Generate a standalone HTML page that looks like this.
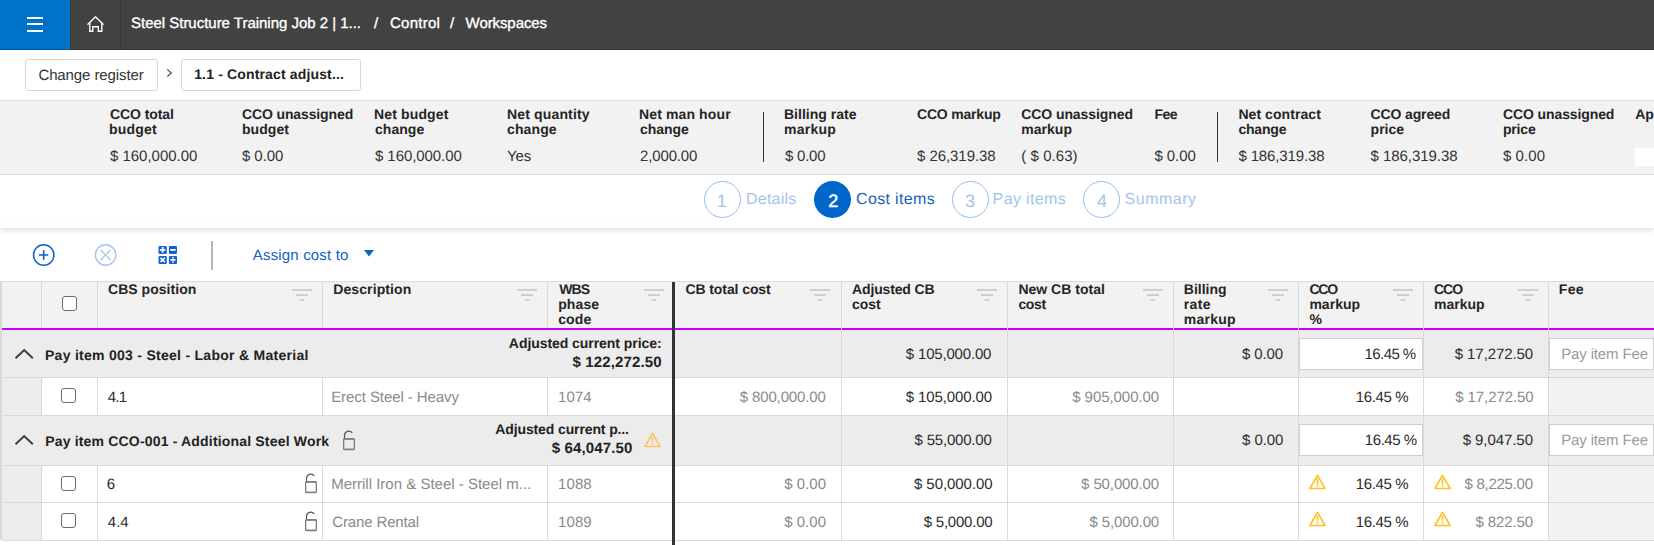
<!DOCTYPE html>
<html>
<head>
<meta charset="utf-8">
<title>Cost items</title>
<style>
*{box-sizing:border-box;margin:0;padding:0}
html,body{width:1654px;height:545px;overflow:hidden;background:#fff}
body{font-family:"Liberation Sans",Arial,sans-serif;color:#333;position:relative;text-rendering:geometricPrecision}
.a{position:absolute}
.t{position:absolute;white-space:nowrap}
.bx{position:absolute}
</style>
</head>
<body>
<!-- TOP BAR -->
<div class="bx" style="left:0;top:0;width:1654px;height:50px;background:#424242"></div>
<div class="bx" style="left:0;top:0;width:70px;height:50px;background:#0071c9"></div>
<div class="bx" style="left:27px;top:16.5px;width:16px;height:2px;background:#fff"></div>
<div class="bx" style="left:27px;top:23px;width:16px;height:2px;background:#fff"></div>
<div class="bx" style="left:27px;top:30px;width:16px;height:2px;background:#fff"></div>
<svg class="a" style="left:84px;top:12px" width="24" height="24" viewBox="0 0 24 24">
 <path d="M3.9 12.3 L11.5 4.8 L19.1 12.3" fill="none" stroke="#fff" stroke-width="1.4" stroke-linecap="round" stroke-linejoin="round"/>
 <path d="M5.8 10.6 V19.2 H8.8 V14.7 H14.3 V19.2 H17.8 V10.6" fill="none" stroke="#fff" stroke-width="1.35"/>
</svg>
<div class="bx" style="left:120px;top:0;width:1px;height:50px;background:#363636"></div>
<div class="bx" style="left:70px;top:0;width:1px;height:50px;background:#383838"></div>
<div class="bx" style="left:0;top:49px;width:1654px;height:1px;background:rgba(0,0,0,0.18)"></div>

<!-- BREADCRUMB -->
<div class="bx" style="left:25px;top:59px;width:133px;height:32px;border:1px solid #d6d6d6;border-radius:3px"></div>
<svg class="a" style="left:165px;top:68px" width="8" height="11" viewBox="0 0 8 11"><path d="M2.2 1.3 L6.4 5 L2.2 8.7" fill="none" stroke="#444" stroke-width="1.1"/></svg>
<div class="bx" style="left:181px;top:59px;width:180px;height:32px;border:1px solid #d6d6d6;border-radius:3px"></div>

<!-- SUMMARY -->
<div class="bx" style="left:0;top:100px;width:1654px;height:75px;background:#f2f2f2;border-top:1px solid #dcdcdc;border-bottom:1px solid #dcdcdc"></div>
<div class="bx" style="left:763px;top:112px;width:1px;height:50px;background:#333"></div>
<div class="bx" style="left:1217px;top:112px;width:1px;height:50px;background:#333"></div>
<div class="bx" style="left:1635px;top:148px;width:19px;height:18px;background:#fff"></div>

<!-- STEPPER -->
<div class="bx" style="left:0;top:175px;width:1654px;height:53px;background:#fff;box-shadow:0 2px 6px rgba(0,0,0,0.14);clip-path:inset(0 0 -12px 0)"></div>
<div class="bx" style="left:704px;top:181px;width:37px;height:37px;border-radius:50%;border:1px solid #96bdea"></div>
<div class="bx" style="left:814px;top:181px;width:37px;height:37px;border-radius:50%;background:#0066cc"></div>
<div class="bx" style="left:952px;top:181px;width:37px;height:37px;border-radius:50%;border:1px solid #96bdea"></div>
<div class="bx" style="left:1083px;top:181px;width:37px;height:37px;border-radius:50%;border:1px solid #96bdea"></div>

<div class="bx" style="left:2px;top:217px;width:702px;height:1px;background:#fbfbfb"></div>
<!-- TOOLBAR -->
<svg class="a" style="left:32px;top:244px" width="23" height="23" viewBox="0 0 23 23">
 <circle cx="11.7" cy="11" r="10.2" fill="none" stroke="#1262cc" stroke-width="1.5"/>
 <path d="M11.7 6.2 V15.8 M7 11 H16.3" stroke="#1262cc" stroke-width="1.7"/>
</svg>
<svg class="a" style="left:94px;top:244px" width="23" height="23" viewBox="0 0 23 23">
 <circle cx="11.6" cy="11" r="10.2" fill="none" stroke="#a3c6ef" stroke-width="1.4"/>
 <path d="M6.6 6 L16.6 16 M16.6 6 L6.6 16" stroke="#a3c6ef" stroke-width="1.3"/>
</svg>
<svg class="a" style="left:158px;top:245px" width="20" height="20" viewBox="0 0 20 20">
 <rect x="0.5" y="0.9" width="8.3" height="8" rx="1.2" fill="#1262cc"/>
 <rect x="10.9" y="0.9" width="8.1" height="8" rx="1.2" fill="#1262cc"/>
 <rect x="0.5" y="10.9" width="8.3" height="8" rx="1.2" fill="#1262cc"/>
 <rect x="10.9" y="10.9" width="8.1" height="8" rx="1.2" fill="#1262cc"/>
 <path d="M4.65 2.1 V7.7 M1.9 4.9 H7.4 M12.3 4.9 H17.6 M2.5 12.8 L6.8 17 M6.8 12.8 L2.5 17 M12.4 14.9 H17.5" stroke="#fff" stroke-width="1.7"/>
 <circle cx="14.95" cy="12.7" r="0.9" fill="#fff"/><circle cx="14.95" cy="17.1" r="0.9" fill="#fff"/>
</svg>
<div class="bx" style="left:211px;top:241px;width:2px;height:29px;background:#b4b4b4"></div>
<svg class="a" style="left:364px;top:250px" width="10" height="7" viewBox="0 0 10 7"><path d="M0 0 H10 L5 6.5 Z" fill="#1560c4"/></svg>

<!-- GRID -->
<div class="bx" style="left:0;top:281px;width:1654px;height:1px;background:#dcdcdc"></div>
<div class="bx" style="left:0;top:282px;width:2px;height:258px;background:#d9d9d9"></div>
<div class="bx" style="left:2px;top:282px;width:1652px;height:46px;background:#f2f2f2"></div>
<div class="bx" style="left:2px;top:328px;width:1652px;height:2px;background:#c400ff"></div>
<!-- group rows -->
<div class="bx" style="left:2px;top:330px;width:1652px;height:47px;background:#ececec"></div>
<div class="bx" style="left:2px;top:377px;width:1652px;height:1px;background:#d9d9d9"></div>
<div class="bx" style="left:2px;top:378px;width:39px;height:87px;background:#ececec"></div>
<div class="bx" style="left:41px;top:378px;width:1613px;height:37px;background:#fff"></div>
<div class="bx" style="left:2px;top:415px;width:1652px;height:1px;background:#d9d9d9"></div>
<div class="bx" style="left:2px;top:416px;width:1652px;height:49px;background:#ececec"></div>
<div class="bx" style="left:2px;top:465px;width:1652px;height:1px;background:#d9d9d9"></div>
<div class="bx" style="left:2px;top:466px;width:39px;height:74px;background:#ececec"></div>
<div class="bx" style="left:41px;top:466px;width:1613px;height:36px;background:#fff"></div>
<div class="bx" style="left:2px;top:502px;width:1652px;height:1px;background:#d9d9d9"></div>
<div class="bx" style="left:41px;top:503px;width:1613px;height:37px;background:#fff"></div>
<div class="bx" style="left:2px;top:540px;width:1652px;height:1px;background:#d9d9d9"></div>
<!-- fee col readonly bg on data rows -->
<div class="bx" style="left:1549px;top:378px;width:105px;height:37px;background:#f2f2f2"></div>
<div class="bx" style="left:1549px;top:466px;width:105px;height:36px;background:#f2f2f2"></div>
<div class="bx" style="left:1549px;top:503px;width:105px;height:37px;background:#f2f2f2"></div>
<!-- vertical lines: header -->
<div class="bx" style="left:41px;top:282px;width:1px;height:46px;background:#d9d9d9"></div>
<div class="bx" style="left:97px;top:282px;width:1px;height:46px;background:#d9d9d9"></div>
<div class="bx" style="left:322px;top:282px;width:1px;height:46px;background:#d9d9d9"></div>
<div class="bx" style="left:547px;top:282px;width:1px;height:46px;background:#d9d9d9"></div>
<!-- vertical lines: data rows (left part) -->
<div class="bx" style="left:41px;top:378px;width:1px;height:37px;background:#d9d9d9"></div>
<div class="bx" style="left:97px;top:378px;width:1px;height:37px;background:#d9d9d9"></div>
<div class="bx" style="left:322px;top:378px;width:1px;height:37px;background:#d9d9d9"></div>
<div class="bx" style="left:547px;top:378px;width:1px;height:37px;background:#d9d9d9"></div>
<div class="bx" style="left:41px;top:466px;width:1px;height:74px;background:#d9d9d9"></div>
<div class="bx" style="left:97px;top:466px;width:1px;height:74px;background:#d9d9d9"></div>
<div class="bx" style="left:322px;top:466px;width:1px;height:74px;background:#d9d9d9"></div>
<div class="bx" style="left:547px;top:466px;width:1px;height:74px;background:#d9d9d9"></div>
<!-- vertical lines: right part full height -->
<div class="bx" style="left:841px;top:282px;width:1px;height:258px;background:#d9d9d9"></div>
<div class="bx" style="left:1007px;top:282px;width:1px;height:258px;background:#d9d9d9"></div>
<div class="bx" style="left:1173px;top:282px;width:1px;height:258px;background:#d9d9d9"></div>
<div class="bx" style="left:1298px;top:282px;width:1px;height:258px;background:#d9d9d9"></div>
<div class="bx" style="left:1423px;top:282px;width:1px;height:258px;background:#d9d9d9"></div>
<div class="bx" style="left:1548px;top:282px;width:1px;height:258px;background:#d9d9d9"></div>
<!-- thick frozen divider -->
<div class="bx" style="left:672px;top:282px;width:3px;height:263px;background:#333"></div>

<svg class="a" style="left:292px;top:289px" width="20" height="12" viewBox="0 0 20 12"><rect x="0" y="0" width="20" height="2" fill="#cfcfcf"/><rect x="4" y="5" width="12" height="2" fill="#cfcfcf"/><rect x="7.6" y="10" width="4.8" height="2" fill="#cfcfcf"/></svg>
<svg class="a" style="left:517px;top:289px" width="20" height="12" viewBox="0 0 20 12"><rect x="0" y="0" width="20" height="2" fill="#cfcfcf"/><rect x="4" y="5" width="12" height="2" fill="#cfcfcf"/><rect x="7.6" y="10" width="4.8" height="2" fill="#cfcfcf"/></svg>
<svg class="a" style="left:644px;top:289px" width="20" height="12" viewBox="0 0 20 12"><rect x="0" y="0" width="20" height="2" fill="#cfcfcf"/><rect x="4" y="5" width="12" height="2" fill="#cfcfcf"/><rect x="7.6" y="10" width="4.8" height="2" fill="#cfcfcf"/></svg>
<svg class="a" style="left:810px;top:289px" width="20" height="12" viewBox="0 0 20 12"><rect x="0" y="0" width="20" height="2" fill="#cfcfcf"/><rect x="4" y="5" width="12" height="2" fill="#cfcfcf"/><rect x="7.6" y="10" width="4.8" height="2" fill="#cfcfcf"/></svg>
<svg class="a" style="left:977px;top:289px" width="20" height="12" viewBox="0 0 20 12"><rect x="0" y="0" width="20" height="2" fill="#cfcfcf"/><rect x="4" y="5" width="12" height="2" fill="#cfcfcf"/><rect x="7.6" y="10" width="4.8" height="2" fill="#cfcfcf"/></svg>
<svg class="a" style="left:1143px;top:289px" width="20" height="12" viewBox="0 0 20 12"><rect x="0" y="0" width="20" height="2" fill="#cfcfcf"/><rect x="4" y="5" width="12" height="2" fill="#cfcfcf"/><rect x="7.6" y="10" width="4.8" height="2" fill="#cfcfcf"/></svg>
<svg class="a" style="left:1268px;top:289px" width="20" height="12" viewBox="0 0 20 12"><rect x="0" y="0" width="20" height="2" fill="#cfcfcf"/><rect x="4" y="5" width="12" height="2" fill="#cfcfcf"/><rect x="7.6" y="10" width="4.8" height="2" fill="#cfcfcf"/></svg>
<svg class="a" style="left:1393px;top:289px" width="20" height="12" viewBox="0 0 20 12"><rect x="0" y="0" width="20" height="2" fill="#cfcfcf"/><rect x="4" y="5" width="12" height="2" fill="#cfcfcf"/><rect x="7.6" y="10" width="4.8" height="2" fill="#cfcfcf"/></svg>
<svg class="a" style="left:1518px;top:289px" width="20" height="12" viewBox="0 0 20 12"><rect x="0" y="0" width="20" height="2" fill="#cfcfcf"/><rect x="4" y="5" width="12" height="2" fill="#cfcfcf"/><rect x="7.6" y="10" width="4.8" height="2" fill="#cfcfcf"/></svg>
<!-- checkboxes -->
<div class="bx" style="left:61.5px;top:295.5px;width:15px;height:15px;border:1.5px solid #6b6b6b;border-radius:3px;background:#fff"></div>
<div class="bx" style="left:61px;top:388px;width:15px;height:15px;border:1.5px solid #6b6b6b;border-radius:3px;background:#fff"></div>
<div class="bx" style="left:61px;top:476px;width:15px;height:15px;border:1.5px solid #6b6b6b;border-radius:3px;background:#fff"></div>
<div class="bx" style="left:61px;top:513px;width:15px;height:15px;border:1.5px solid #6b6b6b;border-radius:3px;background:#fff"></div>

<!-- chevrons -->
<svg class="a" style="left:14px;top:347px" width="20" height="14" viewBox="0 0 20 14"><path d="M1.5 11.3 L10.2 3 L18.8 11.3" fill="none" stroke="#3c3c3c" stroke-width="1.9"/></svg>
<svg class="a" style="left:14px;top:433px" width="20" height="14" viewBox="0 0 20 14"><path d="M1.5 11.3 L10.2 3 L18.8 11.3" fill="none" stroke="#3c3c3c" stroke-width="1.9"/></svg>

<!-- inputs -->
<div class="bx" style="left:1299px;top:338px;width:124px;height:32px;background:#fff;border:1px solid #cfcfcf"></div>
<div class="bx" style="left:1549px;top:338px;width:105px;height:32px;background:#fff;border:1px solid #cfcfcf"></div>
<div class="bx" style="left:1299px;top:424px;width:124px;height:32px;background:#fff;border:1px solid #cfcfcf"></div>
<div class="bx" style="left:1549px;top:424px;width:105px;height:32px;background:#fff;border:1px solid #cfcfcf"></div>

<svg class="a" style="left:341.5px;top:430.2px" width="14" height="21" viewBox="0 0 14 21"><path d="M2.5 8.6 V5.6 A4.3 4.3 0 0 1 10.3 3" fill="none" stroke="#555" stroke-width="1.2"/><rect x="1.65" y="8.85" width="10.7" height="10.6" rx="0.8" fill="none" stroke="#7c7c7c" stroke-width="1.3"/><path d="M1.8 8.85 H12.2 M1.8 19.45 H12.2" stroke="#808080" stroke-width="1.6"/></svg>
<svg class="a" style="left:304px;top:473px" width="14" height="21" viewBox="0 0 14 21"><path d="M2.5 8.6 V5.6 A4.3 4.3 0 0 1 10.3 3" fill="none" stroke="#555" stroke-width="1.2"/><rect x="1.65" y="8.85" width="10.7" height="10.6" rx="0.8" fill="none" stroke="#7c7c7c" stroke-width="1.3"/><path d="M1.8 8.85 H12.2 M1.8 19.45 H12.2" stroke="#808080" stroke-width="1.6"/></svg>
<svg class="a" style="left:304px;top:510.5px" width="14" height="21" viewBox="0 0 14 21"><path d="M2.5 8.6 V5.6 A4.3 4.3 0 0 1 10.3 3" fill="none" stroke="#555" stroke-width="1.2"/><rect x="1.65" y="8.85" width="10.7" height="10.6" rx="0.8" fill="none" stroke="#7c7c7c" stroke-width="1.3"/><path d="M1.8 8.85 H12.2 M1.8 19.45 H12.2" stroke="#808080" stroke-width="1.6"/></svg>
<svg class="a" style="left:644px;top:432px" width="17" height="16" viewBox="0 0 17 16"><path d="M8.5 1.3 L16.1 14.5 H0.9 Z" fill="none" stroke="#fcc464" stroke-width="1.6" stroke-linejoin="round"/><path d="M8.5 4.8 V9.9" stroke="#fcc464" stroke-width="1.7"/><circle cx="8.5" cy="11.8" r="0.95" fill="#fcc464"/></svg>
<svg class="a" style="left:1309px;top:473.5px" width="17" height="16" viewBox="0 0 17 16"><path d="M8.5 1.3 L16.1 14.5 H0.9 Z" fill="none" stroke="#fdc21e" stroke-width="1.6" stroke-linejoin="round"/><path d="M8.5 4.8 V9.9" stroke="#fdc21e" stroke-width="1.7"/><circle cx="8.5" cy="11.8" r="0.95" fill="#fdc21e"/></svg>
<svg class="a" style="left:1434px;top:473.5px" width="17" height="16" viewBox="0 0 17 16"><path d="M8.5 1.3 L16.1 14.5 H0.9 Z" fill="none" stroke="#fdc21e" stroke-width="1.6" stroke-linejoin="round"/><path d="M8.5 4.8 V9.9" stroke="#fdc21e" stroke-width="1.7"/><circle cx="8.5" cy="11.8" r="0.95" fill="#fdc21e"/></svg>
<svg class="a" style="left:1309px;top:511px" width="17" height="16" viewBox="0 0 17 16"><path d="M8.5 1.3 L16.1 14.5 H0.9 Z" fill="none" stroke="#fdc21e" stroke-width="1.6" stroke-linejoin="round"/><path d="M8.5 4.8 V9.9" stroke="#fdc21e" stroke-width="1.7"/><circle cx="8.5" cy="11.8" r="0.95" fill="#fdc21e"/></svg>
<svg class="a" style="left:1434px;top:511px" width="17" height="16" viewBox="0 0 17 16"><path d="M8.5 1.3 L16.1 14.5 H0.9 Z" fill="none" stroke="#fdc21e" stroke-width="1.6" stroke-linejoin="round"/><path d="M8.5 4.8 V9.9" stroke="#fdc21e" stroke-width="1.7"/><circle cx="8.5" cy="11.8" r="0.95" fill="#fdc21e"/></svg>
<div class="t" id="t0" style="top:15px;font-size:15px;line-height:18px;color:#ffffff;left:131.00px;letter-spacing:-0.018px;-webkit-text-stroke:0.35px #fff;">Steel Structure Training Job 2 | 1...</div>
<div class="t" id="t1" style="top:15px;font-size:15px;line-height:18px;color:#ffffff;left:374.00px;-webkit-text-stroke:0.35px #fff;">/</div>
<div class="t" id="t2" style="top:15px;font-size:15px;line-height:18px;color:#ffffff;left:390.00px;letter-spacing:0.258px;-webkit-text-stroke:0.35px #fff;">Control</div>
<div class="t" id="t3" style="top:15px;font-size:15px;line-height:18px;color:#ffffff;left:450.00px;-webkit-text-stroke:0.35px #fff;">/</div>
<div class="t" id="t4" style="top:15px;font-size:15px;line-height:18px;color:#ffffff;left:465.60px;letter-spacing:-0.089px;-webkit-text-stroke:0.35px #fff;">Workspaces</div>
<div class="t" id="t5" style="top:67px;font-size:15px;line-height:18px;color:#333;left:38.40px;letter-spacing:-0.098px;">Change register</div>
<div class="t" id="t6" style="top:66px;font-size:14px;line-height:17px;color:#222;font-weight:700;left:194.20px;letter-spacing:0.151px;">1.1 - Contract adjust...</div>
<div class="t" id="t7" style="top:106px;font-size:14px;line-height:17px;color:#252525;font-weight:700;left:110.00px;letter-spacing:-0.090px;">CCO total</div>
<div class="t" id="t8" style="top:121px;font-size:14px;line-height:17px;color:#252525;font-weight:700;left:109.00px;letter-spacing:0.197px;">budget</div>
<div class="t" id="t9" style="top:148px;font-size:15px;line-height:18px;color:#333;left:110.00px;letter-spacing:-0.020px;">$ 160,000.00</div>
<div class="t" id="t10" style="top:106px;font-size:14px;line-height:17px;color:#252525;font-weight:700;left:242.00px;letter-spacing:-0.123px;">CCO unassigned</div>
<div class="t" id="t11" style="top:121px;font-size:14px;line-height:17px;color:#252525;font-weight:700;left:242.00px;letter-spacing:0.044px;">budget</div>
<div class="t" id="t12" style="top:148px;font-size:15px;line-height:18px;color:#333;left:242.00px;letter-spacing:-0.073px;">$ 0.00</div>
<div class="t" id="t13" style="top:106px;font-size:14px;line-height:17px;color:#252525;font-weight:700;left:374.00px;letter-spacing:0.138px;">Net budget</div>
<div class="t" id="t14" style="top:121px;font-size:14px;line-height:17px;color:#252525;font-weight:700;left:375.00px;letter-spacing:0.044px;">change</div>
<div class="t" id="t15" style="top:148px;font-size:15px;line-height:18px;color:#333;left:375.00px;letter-spacing:-0.071px;">$ 160,000.00</div>
<div class="t" id="t16" style="top:106px;font-size:14px;line-height:17px;color:#252525;font-weight:700;left:507.00px;letter-spacing:0.154px;">Net quantity</div>
<div class="t" id="t17" style="top:121px;font-size:14px;line-height:17px;color:#252525;font-weight:700;left:507.00px;letter-spacing:0.114px;">change</div>
<div class="t" id="t18" style="top:148px;font-size:15px;line-height:18px;color:#333;left:507.00px;letter-spacing:-0.095px;">Yes</div>
<div class="t" id="t19" style="top:106px;font-size:14px;line-height:17px;color:#252525;font-weight:700;left:639.00px;letter-spacing:0.123px;">Net man hour</div>
<div class="t" id="t20" style="top:121px;font-size:14px;line-height:17px;color:#252525;font-weight:700;left:640.00px;letter-spacing:-0.063px;">change</div>
<div class="t" id="t21" style="top:148px;font-size:15px;line-height:18px;color:#333;left:640.00px;letter-spacing:-0.142px;">2,000.00</div>
<div class="t" id="t22" style="top:106px;font-size:14px;line-height:17px;color:#252525;font-weight:700;left:784.00px;letter-spacing:0.009px;">Billing rate</div>
<div class="t" id="t23" style="top:121px;font-size:14px;line-height:17px;color:#252525;font-weight:700;left:784.00px;letter-spacing:0.257px;">markup</div>
<div class="t" id="t24" style="top:148px;font-size:15px;line-height:18px;color:#333;left:785.00px;letter-spacing:-0.226px;">$ 0.00</div>
<div class="t" id="t25" style="top:106px;font-size:14px;line-height:17px;color:#252525;font-weight:700;left:917.00px;letter-spacing:-0.196px;">CCO markup</div>
<div class="t" id="t26" style="top:148px;font-size:15px;line-height:18px;color:#333;left:917.00px;letter-spacing:-0.059px;">$ 26,319.38</div>
<div class="t" id="t27" style="top:106px;font-size:14px;line-height:17px;color:#252525;font-weight:700;left:1021.20px;letter-spacing:-0.071px;">CCO unassigned</div>
<div class="t" id="t28" style="top:121px;font-size:14px;line-height:17px;color:#252525;font-weight:700;left:1021.20px;letter-spacing:0.034px;">markup</div>
<div class="t" id="t29" style="top:148px;font-size:15px;line-height:18px;color:#333;left:1021.20px;letter-spacing:0.069px;">( $ 0.63)</div>
<div class="t" id="t30" style="top:106px;font-size:14px;line-height:17px;color:#252525;font-weight:700;left:1154.40px;letter-spacing:-0.508px;">Fee</div>
<div class="t" id="t31" style="top:148px;font-size:15px;line-height:18px;color:#333;left:1154.40px;letter-spacing:-0.050px;">$ 0.00</div>
<div class="t" id="t32" style="top:106px;font-size:14px;line-height:17px;color:#252525;font-weight:700;left:1238.40px;letter-spacing:0.068px;">Net contract</div>
<div class="t" id="t33" style="top:121px;font-size:14px;line-height:17px;color:#252525;font-weight:700;left:1238.40px;letter-spacing:-0.193px;">change</div>
<div class="t" id="t34" style="top:148px;font-size:15px;line-height:18px;color:#333;left:1238.40px;letter-spacing:-0.123px;">$ 186,319.38</div>
<div class="t" id="t35" style="top:106px;font-size:14px;line-height:17px;color:#252525;font-weight:700;left:1370.60px;letter-spacing:-0.143px;">CCO agreed</div>
<div class="t" id="t36" style="top:121px;font-size:14px;line-height:17px;color:#252525;font-weight:700;left:1370.60px;letter-spacing:-0.004px;">price</div>
<div class="t" id="t37" style="top:148px;font-size:15px;line-height:18px;color:#333;left:1370.60px;letter-spacing:-0.052px;">$ 186,319.38</div>
<div class="t" id="t38" style="top:106px;font-size:14px;line-height:17px;color:#252525;font-weight:700;left:1503.00px;letter-spacing:-0.106px;">CCO unassigned</div>
<div class="t" id="t39" style="top:121px;font-size:14px;line-height:17px;color:#252525;font-weight:700;left:1503.00px;letter-spacing:-0.194px;">price</div>
<div class="t" id="t40" style="top:148px;font-size:15px;line-height:18px;color:#333;left:1503.00px;letter-spacing:0.057px;">$ 0.00</div>
<div class="t" id="t41" style="top:106px;font-size:14px;line-height:17px;color:#252525;font-weight:700;left:1635.20px;">Ap</div>
<div class="t" id="t42" style="top:190px;font-size:16px;line-height:19px;color:#a3c4ea;left:746.00px;letter-spacing:0.237px;">Details</div>
<div class="t" id="t43" style="top:190px;font-size:16px;line-height:19px;color:#1b5fb8;left:856.00px;letter-spacing:0.352px;">Cost items</div>
<div class="t" id="t44" style="top:190px;font-size:16px;line-height:19px;color:#a3c4ea;left:992.60px;letter-spacing:0.361px;">Pay items</div>
<div class="t" id="t45" style="top:190px;font-size:16px;line-height:19px;color:#a3c4ea;left:1124.60px;letter-spacing:0.483px;">Summary</div>
<div class="t" id="t46" style="top:190px;font-size:18px;line-height:22px;color:#a3c4ea;left:716.80px;">1</div>
<div class="t" id="t47" style="top:190px;font-size:18px;line-height:22px;color:#ffffff;left:828.20px;-webkit-text-stroke:0.45px #fff;">2</div>
<div class="t" id="t48" style="top:190px;font-size:18px;line-height:22px;color:#a3c4ea;left:965.00px;">3</div>
<div class="t" id="t49" style="top:190px;font-size:18px;line-height:22px;color:#a3c4ea;left:1097.00px;">4</div>
<div class="t" id="t50" style="top:247px;font-size:15px;line-height:18px;color:#1560c4;left:252.80px;letter-spacing:0.167px;">Assign cost to</div>
<div class="t" id="t51" style="top:281px;font-size:14px;line-height:17px;color:#252525;font-weight:700;left:108.00px;letter-spacing:0.036px;">CBS position</div>
<div class="t" id="t52" style="top:281px;font-size:14px;line-height:17px;color:#252525;font-weight:700;left:333.20px;letter-spacing:0.109px;">Description</div>
<div class="t" id="t53" style="top:281px;font-size:14px;line-height:17px;color:#252525;font-weight:700;left:559.20px;letter-spacing:-0.891px;">WBS</div>
<div class="t" id="t54" style="top:296px;font-size:14px;line-height:17px;color:#252525;font-weight:700;left:558.20px;letter-spacing:0.126px;">phase</div>
<div class="t" id="t55" style="top:311px;font-size:14px;line-height:17px;color:#252525;font-weight:700;left:558.20px;letter-spacing:0.120px;">code</div>
<div class="t" id="t56" style="top:281px;font-size:14px;line-height:17px;color:#252525;font-weight:700;left:685.40px;letter-spacing:-0.083px;">CB total cost</div>
<div class="t" id="t57" style="top:281px;font-size:14px;line-height:17px;color:#252525;font-weight:700;left:852.00px;letter-spacing:-0.138px;">Adjusted CB</div>
<div class="t" id="t58" style="top:296px;font-size:14px;line-height:17px;color:#252525;font-weight:700;left:852.00px;letter-spacing:-0.033px;">cost</div>
<div class="t" id="t59" style="top:281px;font-size:14px;line-height:17px;color:#252525;font-weight:700;left:1018.40px;letter-spacing:0.011px;">New CB total</div>
<div class="t" id="t60" style="top:296px;font-size:14px;line-height:17px;color:#252525;font-weight:700;left:1018.40px;letter-spacing:-0.324px;">cost</div>
<div class="t" id="t61" style="top:281px;font-size:14px;line-height:17px;color:#252525;font-weight:700;left:1183.80px;letter-spacing:-0.016px;">Billing</div>
<div class="t" id="t62" style="top:296px;font-size:14px;line-height:17px;color:#252525;font-weight:700;left:1183.80px;letter-spacing:0.328px;">rate</div>
<div class="t" id="t63" style="top:311px;font-size:14px;line-height:17px;color:#252525;font-weight:700;left:1183.80px;letter-spacing:0.234px;">markup</div>
<div class="t" id="t64" style="top:281px;font-size:14px;line-height:17px;color:#252525;font-weight:700;left:1309.40px;letter-spacing:-1.242px;">CCO</div>
<div class="t" id="t65" style="top:296px;font-size:14px;line-height:17px;color:#252525;font-weight:700;left:1309.40px;letter-spacing:0.034px;">markup</div>
<div class="t" id="t66" style="top:311px;font-size:14px;line-height:17px;color:#252525;font-weight:700;left:1309.40px;">%</div>
<div class="t" id="t67" style="top:281px;font-size:14px;line-height:17px;color:#252525;font-weight:700;left:1434.00px;letter-spacing:-1.008px;">CCO</div>
<div class="t" id="t68" style="top:296px;font-size:14px;line-height:17px;color:#252525;font-weight:700;left:1434.00px;letter-spacing:0.010px;">markup</div>
<div class="t" id="t69" style="top:281px;font-size:14px;line-height:17px;color:#252525;font-weight:700;left:1558.80px;letter-spacing:0.292px;">Fee</div>
<div class="t" id="t70" style="top:347px;font-size:14px;line-height:17px;color:#222222;font-weight:700;left:45.00px;letter-spacing:0.276px;">Pay item 003 - Steel - Labor &amp; Material</div>
<div class="t" id="t71" style="top:335px;font-size:14px;line-height:17px;color:#222222;font-weight:700;right:992.40px;letter-spacing:-0.057px;margin-right:0.057px;">Adjusted current price:</div>
<div class="t" id="t72" style="top:354px;font-size:15px;line-height:18px;color:#222222;font-weight:700;right:992.40px;letter-spacing:0.147px;margin-right:-0.147px;">$ 122,272.50</div>
<div class="t" id="t73" style="top:346px;font-size:15px;line-height:18px;color:#2b2b2b;right:662.60px;letter-spacing:-0.184px;margin-right:0.184px;">$ 105,000.00</div>
<div class="t" id="t74" style="top:346px;font-size:15px;line-height:18px;color:#2b2b2b;right:371.00px;letter-spacing:-0.156px;margin-right:0.156px;">$ 0.00</div>
<div class="t" id="t75" style="top:346px;font-size:15px;line-height:18px;color:#2b2b2b;right:237.80px;letter-spacing:-0.540px;margin-right:0.540px;">16.45 %</div>
<div class="t" id="t76" style="top:346px;font-size:15px;line-height:18px;color:#2b2b2b;right:120.80px;letter-spacing:-0.081px;margin-right:0.081px;">$ 17,272.50</div>
<div class="t" id="t77" style="top:346px;font-size:15px;line-height:18px;color:#9a9a9a;left:1561.20px;letter-spacing:-0.139px;">Pay item Fee</div>
<div class="t" id="t78" style="top:389px;font-size:15px;line-height:18px;color:#2b2b2b;left:107.80px;letter-spacing:-0.820px;">4.1</div>
<div class="t" id="t79" style="top:389px;font-size:15px;line-height:18px;color:#8a8a8a;left:331.20px;letter-spacing:-0.076px;">Erect Steel - Heavy</div>
<div class="t" id="t80" style="top:389px;font-size:15px;line-height:18px;color:#8a8a8a;left:558.00px;letter-spacing:0.115px;">1074</div>
<div class="t" id="t81" style="top:389px;font-size:15px;line-height:18px;color:#8a8a8a;right:828.20px;letter-spacing:-0.143px;margin-right:0.143px;">$ 800,000.00</div>
<div class="t" id="t82" style="top:389px;font-size:15px;line-height:18px;color:#2b2b2b;right:661.80px;letter-spacing:-0.093px;margin-right:0.093px;">$ 105,000.00</div>
<div class="t" id="t83" style="top:389px;font-size:15px;line-height:18px;color:#8a8a8a;right:494.80px;letter-spacing:-0.052px;margin-right:0.052px;">$ 905,000.00</div>
<div class="t" id="t84" style="top:389px;font-size:15px;line-height:18px;color:#2b2b2b;right:245.40px;letter-spacing:-0.373px;margin-right:0.373px;">16.45 %</div>
<div class="t" id="t85" style="top:389px;font-size:15px;line-height:18px;color:#8a8a8a;right:120.40px;letter-spacing:-0.081px;margin-right:0.081px;">$ 17,272.50</div>
<div class="t" id="t86" style="top:433px;font-size:14px;line-height:17px;color:#222222;font-weight:700;left:45.20px;letter-spacing:0.177px;">Pay item CCO-001 - Additional Steel Work</div>
<div class="t" id="t87" style="top:421px;font-size:14px;line-height:17px;color:#222222;font-weight:700;right:1025.00px;letter-spacing:-0.120px;margin-right:0.120px;">Adjusted current p...</div>
<div class="t" id="t88" style="top:440px;font-size:15px;line-height:18px;color:#222222;font-weight:700;right:1021.60px;letter-spacing:0.146px;margin-right:-0.146px;">$ 64,047.50</div>
<div class="t" id="t89" style="top:432px;font-size:15px;line-height:18px;color:#2b2b2b;right:662.20px;letter-spacing:-0.194px;margin-right:0.194px;">$ 55,000.00</div>
<div class="t" id="t90" style="top:432px;font-size:15px;line-height:18px;color:#2b2b2b;right:370.60px;letter-spacing:-0.073px;margin-right:0.073px;">$ 0.00</div>
<div class="t" id="t91" style="top:432px;font-size:15px;line-height:18px;color:#2b2b2b;right:236.80px;letter-spacing:-0.450px;margin-right:0.450px;">16.45 %</div>
<div class="t" id="t92" style="top:432px;font-size:15px;line-height:18px;color:#2b2b2b;right:121.00px;letter-spacing:-0.066px;margin-right:0.066px;">$ 9,047.50</div>
<div class="t" id="t93" style="top:432px;font-size:15px;line-height:18px;color:#9a9a9a;left:1561.20px;letter-spacing:-0.139px;">Pay item Fee</div>
<div class="t" id="t94" style="top:476px;font-size:15px;line-height:18px;color:#2b2b2b;left:106.80px;">6</div>
<div class="t" id="t95" style="top:476px;font-size:15px;line-height:18px;color:#8a8a8a;left:331.20px;letter-spacing:0.001px;">Merrill Iron &amp; Steel - Steel m...</div>
<div class="t" id="t96" style="top:476px;font-size:15px;line-height:18px;color:#8a8a8a;left:558.00px;letter-spacing:0.115px;">1088</div>
<div class="t" id="t97" style="top:476px;font-size:15px;line-height:18px;color:#8a8a8a;right:828.00px;letter-spacing:0.010px;margin-right:-0.010px;">$ 0.00</div>
<div class="t" id="t98" style="top:476px;font-size:15px;line-height:18px;color:#2b2b2b;right:661.40px;letter-spacing:-0.059px;margin-right:0.059px;">$ 50,000.00</div>
<div class="t" id="t99" style="top:476px;font-size:15px;line-height:18px;color:#8a8a8a;right:494.80px;letter-spacing:-0.114px;margin-right:0.114px;">$ 50,000.00</div>
<div class="t" id="t100" style="top:476px;font-size:15px;line-height:18px;color:#2b2b2b;right:245.40px;letter-spacing:-0.373px;margin-right:0.373px;">16.45 %</div>
<div class="t" id="t101" style="top:476px;font-size:15px;line-height:18px;color:#8a8a8a;right:121.00px;letter-spacing:-0.265px;margin-right:0.265px;">$ 8,225.00</div>
<div class="t" id="t102" style="top:514px;font-size:15px;line-height:18px;color:#2b2b2b;left:107.80px;letter-spacing:0.014px;">4.4</div>
<div class="t" id="t103" style="top:514px;font-size:15px;line-height:18px;color:#8a8a8a;left:332.20px;letter-spacing:-0.130px;">Crane Rental</div>
<div class="t" id="t104" style="top:514px;font-size:15px;line-height:18px;color:#8a8a8a;left:558.00px;letter-spacing:0.115px;">1089</div>
<div class="t" id="t105" style="top:514px;font-size:15px;line-height:18px;color:#8a8a8a;right:828.00px;letter-spacing:0.010px;margin-right:-0.010px;">$ 0.00</div>
<div class="t" id="t106" style="top:514px;font-size:15px;line-height:18px;color:#2b2b2b;right:661.40px;letter-spacing:-0.228px;margin-right:0.228px;">$ 5,000.00</div>
<div class="t" id="t107" style="top:514px;font-size:15px;line-height:18px;color:#8a8a8a;right:494.80px;letter-spacing:-0.128px;margin-right:0.128px;">$ 5,000.00</div>
<div class="t" id="t108" style="top:514px;font-size:15px;line-height:18px;color:#2b2b2b;right:245.40px;letter-spacing:-0.373px;margin-right:0.373px;">16.45 %</div>
<div class="t" id="t109" style="top:514px;font-size:15px;line-height:18px;color:#8a8a8a;right:121.00px;letter-spacing:-0.127px;margin-right:0.127px;">$ 822.50</div>
</body>
</html>
